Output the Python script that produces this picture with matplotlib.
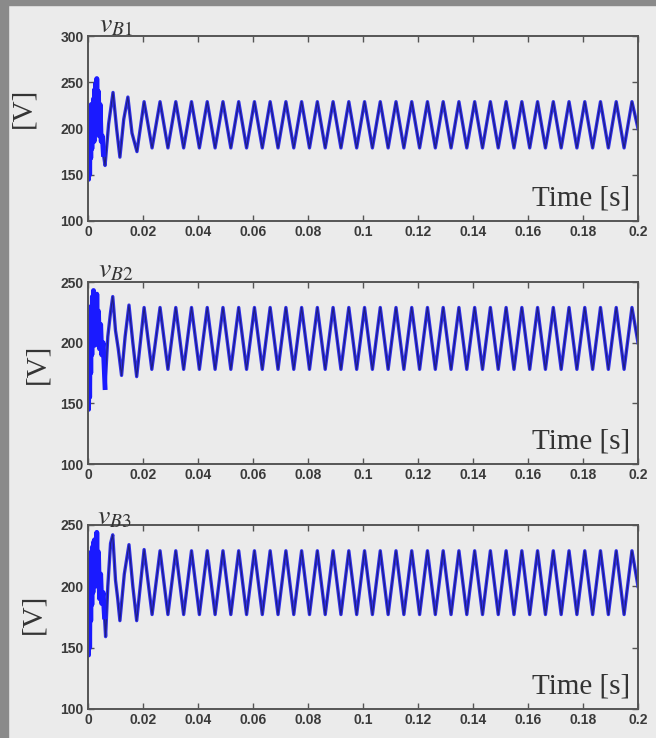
import numpy as np
import matplotlib.pyplot as plt
from matplotlib.patches import Rectangle

plt.rcParams['mathtext.fontset'] = 'stix'

# start-up transient of each bus voltage (t [s], v [V])
t_tr1 = [0, .0002, .0004, .0006, .0008, .0010, .0012, .0014, .0016, .0018,
         .0020, .0022, .0024, .0026, .0028, .0030, .0032, .0035, .0038, .0041,
         .0044, .0048, .0052, .0056, .0062, .0075, .0091, .0104, .0116, .0130,
         .0145, .0160, .0178, .0204, .0233]
v_tr1 = [215, 145, 222, 150, 218, 168, 226, 178, 214, 190,
         232, 186, 242, 196, 249, 212, 254, 200, 240, 192,
         226, 186, 192, 172, 160, 205, 239, 200, 169, 210,
         234, 195, 175, 229, 179]

t_tr2 = [0, .0002, .0004, .0006, .0008, .0010, .0012, .0014, .0016, .0018,
         .0020, .0022, .0024, .0026, .0028, .0030, .0032, .0035, .0038, .0042,
         .0046, .0050, .0055, .0062, .0072, .0082, .0090, .0100, .0110, .0122,
         .0135, .0149, .0163, .0177, .0204, .0232]
v_tr2 = [210, 145, 215, 155, 222, 175, 230, 190, 238, 200,
         243, 205, 238, 198, 235, 210, 240, 200, 226, 195,
         215, 190, 200, 163, 205, 225, 238, 210, 195, 173,
         205, 231, 200, 172, 229, 178]

t_tr3 = [0, .0002, .0004, .0006, .0008, .0010, .0012, .0014, .0016, .0018,
         .0020, .0022, .0024, .0026, .0028, .0030, .0032, .0035, .0038, .0042,
         .0046, .0050, .0055, .0060, .0064, .0072, .0082, .0090, .0100, .0108,
         .0116, .0132, .0149, .0163, .0177, .0204, .0233]
v_tr3 = [212, 144, 218, 150, 222, 172, 228, 185, 232, 195,
         236, 200, 238, 205, 236, 215, 244, 200, 228, 190,
         210, 186, 195, 175, 159, 200, 235, 242, 205, 190,
         172, 210, 234, 200, 172, 230, 177]

# steady state: peaks / troughs of every cycle after the transient
t_first_peak = 0.0262
period = 0.00572
pk1 = [229, 229, 229, 229, 229, 229, 229, 229, 229, 229, 229, 229, 229, 229, 229, 229,
       229, 229, 229, 229, 229, 229, 229, 229, 229, 229, 229, 229, 229, 229, 229]
tr1 = [179, 179, 179, 179, 179, 179, 179, 179, 179, 179, 179, 179, 179, 179, 179,
       179, 179, 179, 179, 179, 179, 179, 179, 179, 179, 179, 179, 179, 179, 179]
pk2 = [229, 229, 229, 229, 229, 229, 229, 229, 229, 229, 229, 229, 229, 229, 229, 229,
       229, 229, 229, 229, 229, 229, 229, 229, 229, 229, 229, 229, 229, 229, 229]
tr2 = [178, 178, 178, 178, 178, 178, 178, 178, 178, 178, 178, 178, 178, 178, 178,
       178, 178, 178, 178, 178, 178, 178, 178, 178, 178, 178, 178, 178, 178, 178]
pk3 = [229, 229, 229, 229, 229, 229, 229, 229, 229, 229, 229, 229, 229, 229, 229, 229,
       229, 229, 229, 229, 229, 229, 229, 229, 229, 229, 229, 229, 229, 229, 229]
tr3 = [177, 177, 177, 177, 177, 177, 177, 177, 177, 177, 177, 177, 177, 177, 177,
       177, 177, 177, 177, 177, 177, 177, 177, 177, 177, 177, 177, 177, 177, 177]
v_end = [200, 200, 200]

titles = [r'$\mathit{v}_{\mathit{B1}}$', r'$\mathit{v}_{\mathit{B2}}$', r'$\mathit{v}_{\mathit{B3}}$']
ylims = [(100, 300), (100, 250), (100, 250)]
yticks = [[100, 150, 200, 250, 300], [100, 150, 200, 250], [100, 150, 200, 250]]
xticks = [0, 0.02, 0.04, 0.06, 0.08, 0.1, 0.12, 0.14, 0.16, 0.18, 0.2]
xticklabels = ['0', '0.02', '0.04', '0.06', '0.08', '0.1', '0.12', '0.14', '0.16', '0.18', '0.2']
transients = [(t_tr1, v_tr1), (t_tr2, v_tr2), (t_tr3, v_tr3)]


def build(t_tr, v_tr, pk, tr, vend):
    t = list(t_tr)
    v = list(v_tr)
    for k in range(len(pk)):
        t.append(t_first_peak + k * period)
        v.append(pk[k])
        if k < len(tr):
            t.append(t_first_peak + k * period + period / 2)
            v.append(tr[k])
    t.append(0.2)
    v.append(vend)
    return np.array(t), np.array(v)


series = [build(t_tr1, v_tr1, pk1, tr1, v_end[0]),
          build(t_tr2, v_tr2, pk2, tr2, v_end[1]),
          build(t_tr3, v_tr3, pk3, tr3, v_end[2])]

W, H = 656, 738
fig = plt.figure(figsize=(W / 100, H / 100), dpi=100)
bg = '#ebebeb'
fig.patch.set_facecolor(bg)

# axes boxes in pixels (left, top, right, bottom)
boxes = [(88, 36, 638, 221), (88, 282, 638, 464), (88, 525, 638, 709)]
ylab_pos = [(23, 108), (37, 364), (33, 614)]
title_pos = [(99, 32), (98, 277), (97, 524)]

for i, (t, v) in enumerate(series):
    l, tp, r, b = boxes[i]
    ax = fig.add_axes([l / W, (H - b) / H, (r - l) / W, (b - tp) / H])
    ax.set_facecolor(bg)
    ax.plot(t, v, color='#2f2fe8', lw=2.4, solid_joinstyle='round')
    ax.plot(t, v, color='#1e1e80', lw=0.8)
    # the start-up burst looks like a solid blue smear
    t_tr, v_tr = transients[i]
    ax.plot(t_tr[:24], v_tr[:24], color='#1a1aff', lw=3.5, solid_joinstyle='round')
    ax.set_xlim(0, 0.2)
    ax.set_ylim(*ylims[i])
    ax.set_xticks(xticks)
    ax.set_xticklabels(xticklabels)
    ax.set_yticks(yticks[i])
    ax.tick_params(direction='in', top=True, right=True, length=4, width=1,
                   color='#555555', labelcolor='#3a3a3a', labelsize=10, pad=3)
    for lab in ax.get_xticklabels() + ax.get_yticklabels():
        lab.set_family('Liberation Sans')
        lab.set_weight('bold')
    for s in ax.spines.values():
        s.set_color('#555555')
        s.set_linewidth(1.4)
    ax.text(0.985, 0.05, 'Time [s]', transform=ax.transAxes, ha='right', va='bottom',
            family='Liberation Serif', fontsize=21, color='#333333')
    fig.text(ylab_pos[i][0] / W, 1 - ylab_pos[i][1] / H, '[V]', rotation=90,
             ha='center', va='center', family='Liberation Serif', fontsize=21, color='#333333')
    fig.text(title_pos[i][0] / W, 1 - title_pos[i][1] / H, titles[i],
             ha='left', va='baseline', fontsize=20, color='#333333')

# dark frame on the top and left edges
fig.add_artist(Rectangle((0, 0), 8 / W, 1, transform=fig.transFigure,
                         color='#8a8a8a', zorder=10))
fig.add_artist(Rectangle((0, 1 - 5 / H), 1, 5 / H, transform=fig.transFigure,
                         color='#8a8a8a', zorder=10))

fig.savefig('out.png', dpi=100, facecolor=bg)
